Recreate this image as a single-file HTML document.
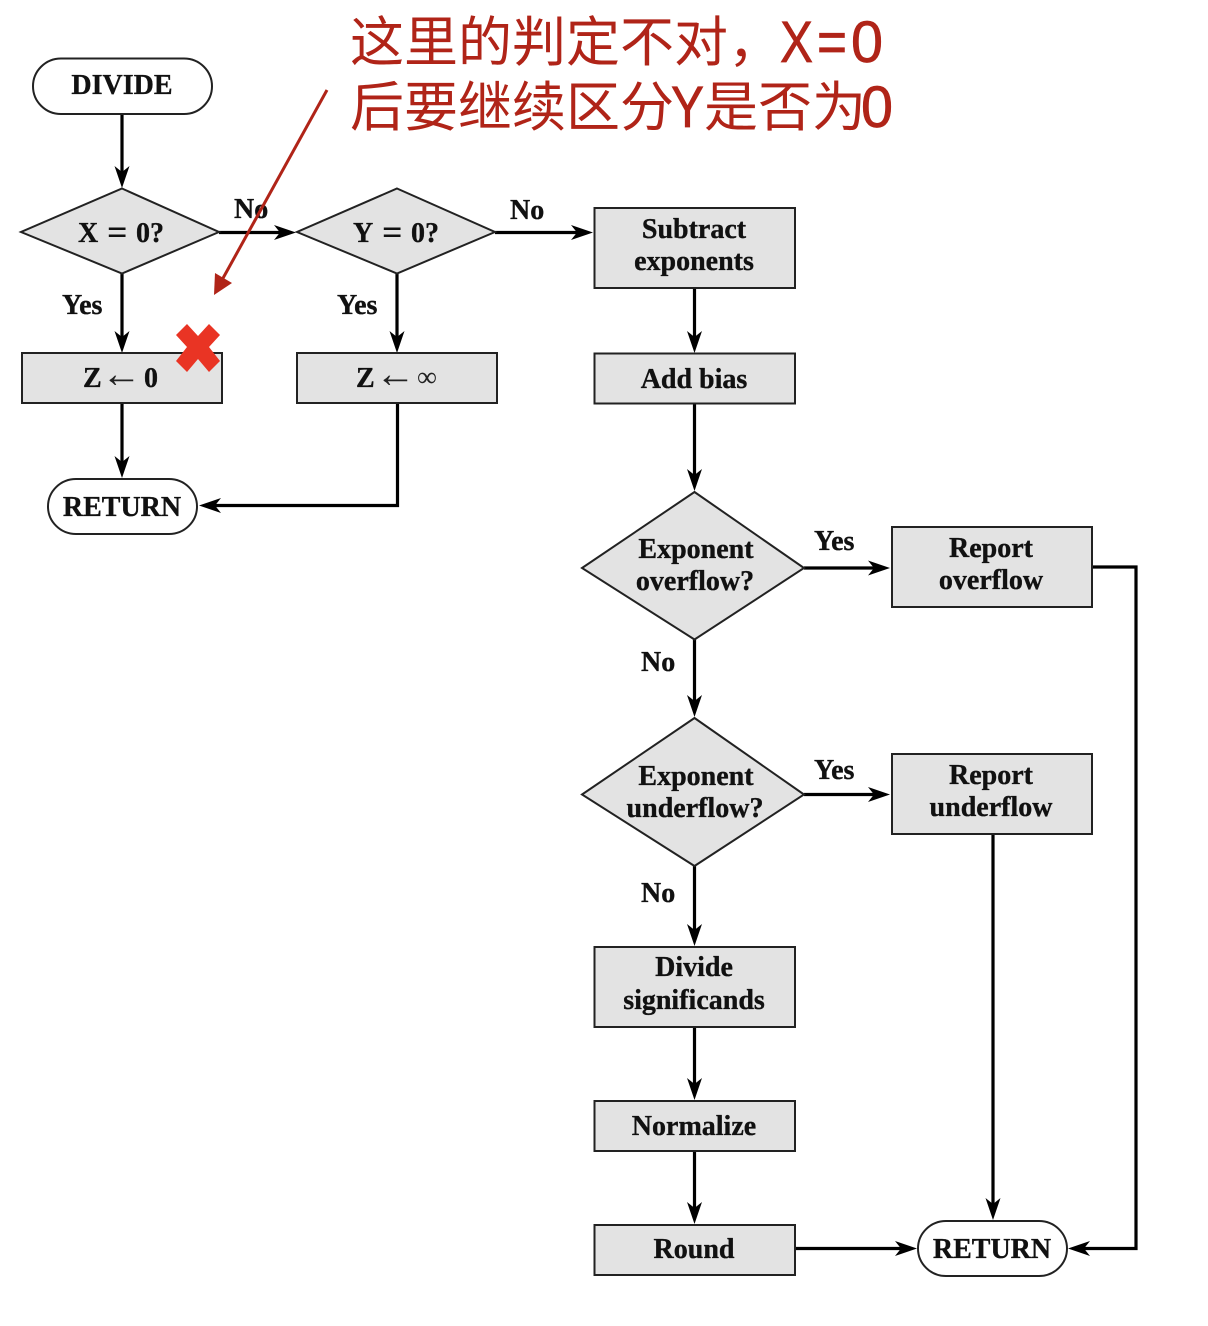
<!DOCTYPE html>
<html><head><meta charset="utf-8">
<style>
html,body{margin:0;padding:0;background:#fff}
svg{display:block}
.t{font-family:"Liberation Serif",serif;font-weight:bold;font-size:28px;fill:#111;stroke:#111;stroke-width:.35;text-anchor:middle}
.l{font-family:"Liberation Serif",serif;font-weight:bold;font-size:28px;fill:#111;stroke:#111;stroke-width:.35}
.s{font-family:"Liberation Serif",serif;font-weight:bold;font-size:36px;fill:#111}
.a{font-family:"Liberation Sans",sans-serif;font-size:40px;fill:#222}
.n{font-family:"Liberation Serif",serif;font-size:28px;fill:#222}
.c{font-family:"Liberation Sans","Noto Sans CJK SC",sans-serif;font-size:54px;fill:#b02418}
.x{font-family:"Liberation Sans",sans-serif;font-size:58px;fill:#b02418;stroke:#b02418;stroke-width:.7}
.b{fill:#e3e3e3;stroke:#222;stroke-width:2}
.p{fill:#fff;stroke:#222;stroke-width:2}
.w{fill:none;stroke:#000;stroke-width:3.2}
</style></head><body>
<svg width="1208" height="1326" viewBox="0 0 1208 1326" xmlns="http://www.w3.org/2000/svg">
<defs>
<path id="ah" d="M0 0 L-22 -7.500 L-16 0 L-22 7.500 Z" fill="#000"/>
</defs>
<!-- connectors -->
<g class="w">
<path d="M122 114V175"/>
<path d="M122 273V340"/>
<path d="M122 403V464"/>
<path d="M219 232.500H282"/>
<path d="M397 273V340"/>
<path d="M397.500 403V505.500H212"/>
<path d="M495 232.500H580"/>
<path d="M694.500 288V340"/>
<path d="M694.500 403V478"/>
<path d="M804 568H876"/>
<path d="M694.500 639V704"/>
<path d="M804 794.500H876"/>
<path d="M694.500 866V932"/>
<path d="M694.500 1027V1086"/>
<path d="M694.500 1151V1210"/>
<path d="M795 1248.500H902"/>
<path d="M993 834V1206"/>
<path d="M1092 567H1136V1248.500H1082"/>
</g>
<use href="#ah" transform="translate(122,188) rotate(90)"/>
<use href="#ah" transform="translate(122,353) rotate(90)"/>
<use href="#ah" transform="translate(122,478) rotate(90)"/>
<use href="#ah" transform="translate(296,232.500)"/>
<use href="#ah" transform="translate(397,353) rotate(90)"/>
<use href="#ah" transform="translate(199,505.500) rotate(180)"/>
<use href="#ah" transform="translate(593,232.500)"/>
<use href="#ah" transform="translate(694.500,353) rotate(90)"/>
<use href="#ah" transform="translate(694.500,491) rotate(90)"/>
<use href="#ah" transform="translate(890,568)"/>
<use href="#ah" transform="translate(694.500,717) rotate(90)"/>
<use href="#ah" transform="translate(890,794.500)"/>
<use href="#ah" transform="translate(694.500,946) rotate(90)"/>
<use href="#ah" transform="translate(694.500,1100) rotate(90)"/>
<use href="#ah" transform="translate(694.500,1224) rotate(90)"/>
<use href="#ah" transform="translate(917,1248.500)"/>
<use href="#ah" transform="translate(993,1220) rotate(90)"/>
<use href="#ah" transform="translate(1068,1248.500) rotate(180)"/>
<!-- nodes -->
<rect class="p" x="33" y="58.500" width="179" height="55.500" rx="28" ry="28"/>
<polygon class="b" points="122,188.500 219,232 122,273.500 21,232"/>
<polygon class="b" points="397,188.500 495,232 397,273.500 297,232"/>
<rect class="b" x="22" y="353" width="200" height="50"/>
<rect class="b" x="297" y="353" width="200" height="50"/>
<rect class="p" x="48" y="479" width="149" height="55" rx="28" ry="28"/>
<rect class="b" x="594.500" y="208" width="200.500" height="80"/>
<rect class="b" x="594.500" y="353.500" width="200.500" height="50"/>
<polygon class="b" points="694.500,492 804,568 694.500,639.500 582,568"/>
<polygon class="b" points="694.500,718 804,794.500 694.500,866 582,794.500"/>
<rect class="b" x="892" y="527" width="200" height="80"/>
<rect class="b" x="892" y="754" width="200" height="80"/>
<rect class="b" x="594.500" y="947" width="200.500" height="80"/>
<rect class="b" x="594.500" y="1101" width="200.500" height="50"/>
<rect class="b" x="594.500" y="1225" width="200.500" height="50"/>
<rect class="p" x="918" y="1221" width="149" height="55" rx="28" ry="28"/>
<!-- node labels -->
<text class="t" x="122" y="94">DIVIDE</text>
<text class="l" x="78" y="242">X</text><text class="s" x="107" y="244">=</text><text class="l" x="136" y="242">0?</text>
<text class="l" x="353" y="242">Y</text><text class="s" x="382" y="244">=</text><text class="l" x="411" y="242">0?</text>
<text class="l" x="83" y="387">Z</text><text class="a" x="101.500" y="387">←</text><text class="l" x="144" y="387">0</text>
<text class="l" x="356" y="387">Z</text><text class="a" x="375.500" y="387">←</text><text class="n" x="417" y="386">∞</text>
<text class="t" x="122" y="516">RETURN</text>
<text class="t" x="694" y="238">Subtract</text>
<text class="t" x="694" y="270">exponents</text>
<text class="t" x="694" y="388">Add bias</text>
<text class="t" x="696" y="558">Exponent</text>
<text class="t" x="695" y="590">overflow?</text>
<text class="t" x="696" y="785">Exponent</text>
<text class="t" x="695" y="817">underflow?</text>
<text class="t" x="991" y="557">Report</text>
<text class="t" x="991" y="589">overflow</text>
<text class="t" x="991" y="784">Report</text>
<text class="t" x="991" y="816">underflow</text>
<text class="t" x="694" y="976">Divide</text>
<text class="t" x="694" y="1009">significands</text>
<text class="t" x="694" y="1135">Normalize</text>
<text class="t" x="694" y="1258">Round</text>
<text class="t" x="992" y="1258">RETURN</text>
<!-- connector labels -->
<text class="l" x="234" y="218">No</text>
<text class="l" x="510" y="219">No</text>
<text class="l" x="62" y="314">Yes</text>
<text class="l" x="337" y="314">Yes</text>
<text class="l" x="814" y="550">Yes</text>
<text class="l" x="814" y="779">Yes</text>
<text class="l" x="641" y="671">No</text>
<text class="l" x="641" y="902">No</text>
<!-- annotation -->
<path d="M327 90L222 280" stroke="#b02418" stroke-width="3" fill="none"/>
<polygon points="214,295 215,273 232,283" fill="#b02418"/>
<polygon points="187,324 198,336 209,324 220,335 209,347 220,361 209,372 198,359 187,372 176,361 187,347 176,335" fill="#e93424"/>
<text class="c" x="350" y="61">这里的判定不对，</text>
<text class="x" x="780" y="62" textLength="33" lengthAdjust="spacingAndGlyphs">X</text>
<text class="x" x="817" y="62" textLength="30" lengthAdjust="spacingAndGlyphs">=</text>
<text class="x" x="851" y="62" textLength="32" lengthAdjust="spacingAndGlyphs">0</text>
<text class="c" x="350" y="126">后要继续区分</text>
<text class="x" x="671" y="127" textLength="33" lengthAdjust="spacingAndGlyphs">Y</text>
<text class="c" x="704" y="126">是否为</text>
<text class="x" x="861" y="127" textLength="32" lengthAdjust="spacingAndGlyphs">0</text>
</svg>
</body></html>
